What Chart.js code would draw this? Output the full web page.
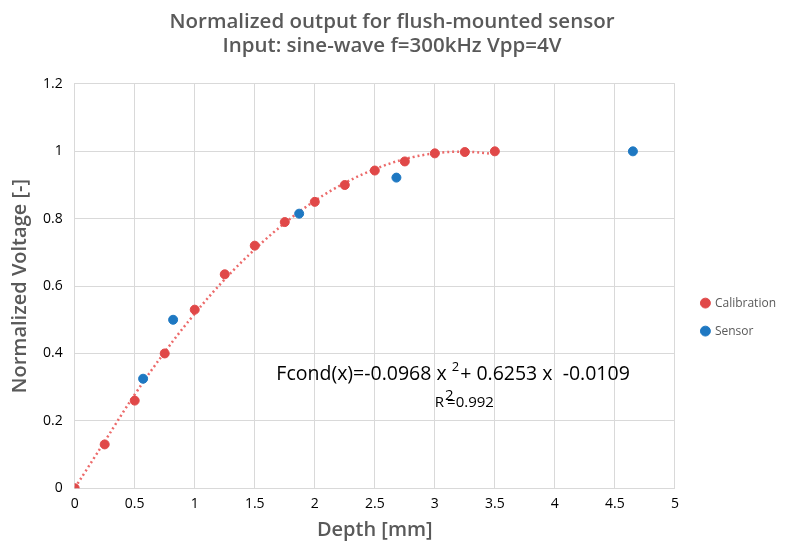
<!DOCTYPE html>
<html>
<head>
<meta charset="utf-8">
<script src="https://cdn.jsdelivr.net/npm/chart.js@4"></script>
<style>
  html, body { margin: 0; padding: 0; background: #fff; }
  #wrap { width: 785px; height: 545px; }
</style>
</head>
<body>
<div id="wrap"><canvas id="chart" width="785" height="545"></canvas></div>
<script>
// Calibration points (depth in mm, normalized voltage)
const calibDepth = [0, 0.25, 0.5, 0.75, 1, 1.25, 1.5, 1.75, 2, 2.25, 2.5, 2.75, 3, 3.25, 3.5];
const calibVolt  = [0, 0.13, 0.26, 0.40, 0.53, 0.635, 0.72, 0.79, 0.85, 0.90, 0.943, 0.97, 0.994, 0.998, 1.0];

// Sensor points
const sensorDepth = [0.57, 0.82, 1.87, 2.68, 4.65];
const sensorVolt  = [0.325, 0.50, 0.815, 0.922, 1.0];

// Trendline
const trendDepth = [0, 0.25, 0.5, 0.75, 1, 1.25, 1.5, 1.75, 2, 2.25, 2.5, 2.75, 3, 3.25, 3.5];
const trendVolt  = [0, 0.139, 0.278, 0.404, 0.518, 0.62, 0.709, 0.787, 0.853, 0.906, 0.947, 0.977, 0.994, 0.999, 0.992];

const xTicks = [0, 0.5, 1, 1.5, 2, 2.5, 3, 3.5, 4, 4.5, 5];
const yTicks = [0, 0.2, 0.4, 0.6, 0.8, 1, 1.2];

const toPoints = (xs, ys) => xs.map((x, i) => ({ x: x, y: ys[i] }));

// Trendline equation text inside the plot
const equationLabel = {
  id: 'equationLabel',
  afterDatasetsDraw(chart) {
    const ctx = chart.ctx;
    const x = chart.scales.x, y = chart.scales.y;
    ctx.save();
    ctx.fillStyle = '#000';
    ctx.textBaseline = 'alphabetic';
    ctx.textAlign = 'left';
    let px = x.getPixelForValue(1.68);
    const py = y.getPixelForValue(0.32);
    ctx.font = '19.5px "Open Sans", sans-serif';
    const a = 'Fcond(x)=-0.0968 x ';
    ctx.fillText(a, px, py);
    px += ctx.measureText(a).width;
    ctx.font = '13px "Open Sans", sans-serif';
    ctx.fillText('2', px, py - 9);
    px += ctx.measureText('2').width + 1;
    ctx.font = '19.5px "Open Sans", sans-serif';
    ctx.fillText('+ 0.6253 x  -0.0109', px, py);

    let rx = x.getPixelForValue(3.0);
    const ry = y.getPixelForValue(0.24);
    ctx.font = '15px "Open Sans", sans-serif';
    ctx.fillText('R', rx, ry);
    rx += ctx.measureText('R').width + 1;
    ctx.fillText('2', rx, ry - 7);
    ctx.fillText('=0.992', rx + 2, ry);
    ctx.restore();
  }
};

// Nudge the legend a little to the right, like the original
const legendShift = {
  id: 'legendShift',
  afterLayout(chart) {
    chart.legend.left += 11;
    chart.legend.right += 11;
  }
};

const tickLabel = v => String(v);

new Chart(document.getElementById('chart'), {
  type: 'scatter',
  data: {
    datasets: [
      {
        label: 'Calibration',
        data: toPoints(calibDepth, calibVolt),
        backgroundColor: '#E04848',
        borderColor: '#E04848',
        pointRadius: 4.5,
        order: 1
      },
      {
        label: 'Sensor',
        data: toPoints(sensorDepth, sensorVolt),
        backgroundColor: '#1E78C2',
        borderColor: '#1E78C2',
        pointRadius: 4.5,
        order: 1
      },
      {
        label: 'trend',
        data: toPoints(trendDepth, trendVolt),
        showLine: true,
        borderColor: '#EC6A6A',
        borderWidth: 2.5,
        borderDash: [2, 3],
        pointRadius: 0,
        tension: 0.4,
        order: 2
      }
    ]
  },
  options: {
    responsive: false,
    animation: false,
    layout: { padding: { top: 10, right: 10, left: 9, bottom: 0 } },
    plugins: {
      title: {
        display: true,
        text: ['Normalized output for flush-mounted sensor', 'Input: sine-wave f=300kHz Vpp=4V'],
        color: '#595959',
        font: { family: '"Open Sans", sans-serif', size: 20.5, weight: '600', lineHeight: 1.17 },
        padding: { top: 0, bottom: 26 }
      },
      legend: {
        position: 'right',
        title: { display: true, text: ' ', padding: 36, font: { size: 6 } },
        labels: {
          filter: item => item.text !== 'trend',
          usePointStyle: true,
          pointStyle: 'circle',
          boxWidth: 7,
          boxHeight: 7,
          padding: 16,
          color: '#595959',
          font: { family: '"Open Sans", sans-serif', size: 12 }
        }
      },
      tooltip: { enabled: false }
    },
    scales: {
      x: {
        type: 'linear',
        min: 0,
        max: 5,
        afterBuildTicks: scale => { scale.ticks = xTicks.map(v => ({ value: v })); },
        ticks: {
          color: '#000',
          font: { family: '"Open Sans", sans-serif', size: 14 },
          padding: 7,
          callback: tickLabel
        },
        grid: { color: '#D9D9D9', drawTicks: false },
        border: { color: '#D9D9D9' },
        title: {
          display: true,
          text: 'Depth [mm]',
          color: '#595959',
          font: { family: '"Open Sans", sans-serif', size: 20, weight: '600', lineHeight: 1.1 },
          padding: { top: 0 }
        }
      },
      y: {
        type: 'linear',
        min: 0,
        max: 1.2,
        afterBuildTicks: scale => { scale.ticks = yTicks.map(v => ({ value: v })); },
        ticks: {
          color: '#000',
          font: { family: '"Open Sans", sans-serif', size: 14 },
          padding: 12,
          callback: tickLabel
        },
        grid: { color: '#D9D9D9', drawTicks: false },
        border: { color: '#D9D9D9' },
        title: {
          display: true,
          text: 'Normalized Voltage [-]',
          color: '#595959',
          font: { family: '"Open Sans", sans-serif', size: 20, weight: '600', lineHeight: 1.1 },
          padding: { top: 0, bottom: 0 }
        }
      }
    }
  },
  plugins: [equationLabel, legendShift]
});
</script>
</body>
</html>
